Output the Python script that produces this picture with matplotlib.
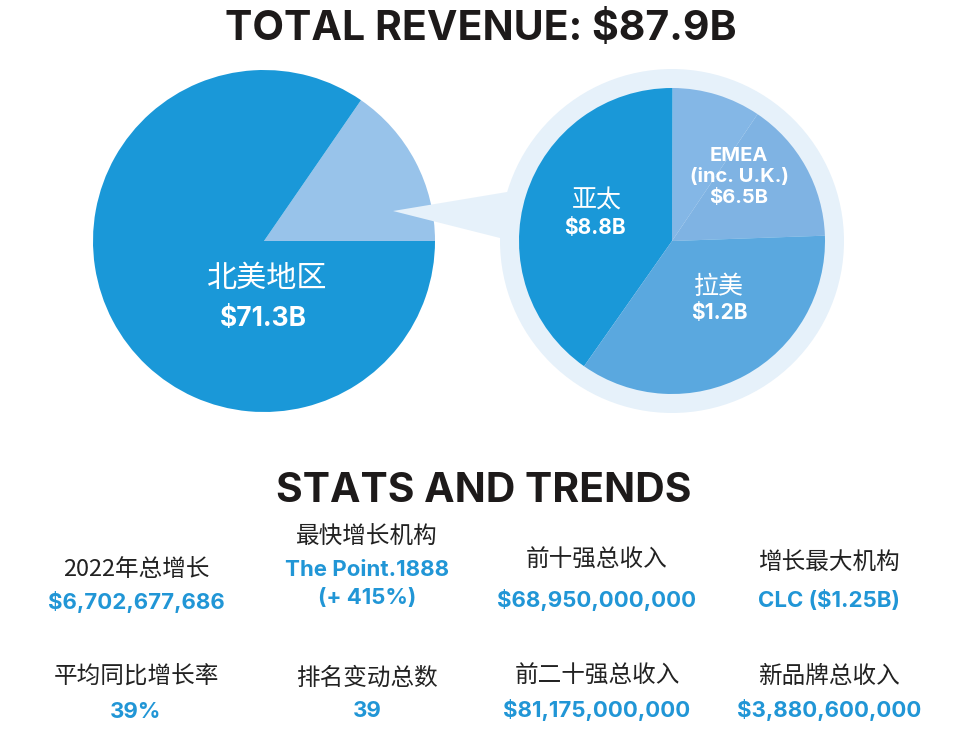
import matplotlib
matplotlib.use("Agg")
import matplotlib.pyplot as plt
from matplotlib.patches import Circle, Polygon

CJK = ['Noto Sans CJK SC', 'DejaVu Sans']
LATIN = 'Inter'

title_main = "TOTAL REVENUE: $87.9B"
title_stats = "STATS AND TRENDS"

left_shares = [15.4, 84.6]
left_colors = ['#98c3ea', '#1a98d8']
left_labels = ["北美地区", "$71.3B"]

right_shares = [15.0, 9.4, 40.3, 35.3]
right_colors = ['#7fb3e3', '#84b7e6', '#1a98d8', '#5aa8df']

stat_labels = ["2022年总增长", "最快增长机构", "前十强总收入", "增长最大机构",
               "平均同比增长率", "排名变动总数", "前二十强总收入", "新品牌总收入"]
stat_values = ["$6,702,677,686", "The Point.1888\n(+ 415%)", "$68,950,000,000", "CLC ($1.25B)",
               "39%", "39", "$81,175,000,000", "$3,880,600,000"]

W, H = 961, 740
fig = plt.figure(figsize=(W / 100, H / 100), dpi=100)
ax = fig.add_axes([0, 0, 1, 1])
ax.set_xlim(0, W)
ax.set_ylim(0, H)
ax.set_aspect('equal')
ax.axis('off')

def Y(p):
    return H - p

BLUE = '#2196d6'
DARK = '#1d1a1a'

# left pie
ax.pie(left_shares, colors=left_colors, center=(264, Y(241)), radius=171,
       startangle=0, frame=True, wedgeprops=dict(linewidth=0))

# halo and callout
halo = '#e6f1fa'
ax.add_patch(Circle((672, Y(241)), 172, fc=halo, ec='none', zorder=3))
ax.add_patch(Polygon([(393, Y(211)), (507, Y(192)), (540, Y(215)), (500, Y(238))],
                     fc=halo, ec='none', zorder=3))

# right pie
ax.pie(right_shares, colors=right_colors, center=(672, Y(241)), radius=153,
       startangle=2, frame=True, wedgeprops=dict(linewidth=0, zorder=4))

ax.set_xlim(0, W)
ax.set_ylim(0, H)
ax.axis('off')

def txt(x, py, s, size, color, family=LATIN, weight='bold', ls=1.1):
    ax.text(x, Y(py), s, fontsize=size, color=color, family=family, weight=weight,
            ha='center', va='center', zorder=6, linespacing=ls)

txt(481, 29, title_main, 29.5, DARK)
txt(484, 491, title_stats, 29.4, DARK)

txt(267, 278, left_labels[0], 21.7, 'white', CJK, 'normal')
txt(263, 319, left_labels[1], 19, 'white')

txt(597, 201, "亚太", 18, 'white', CJK, 'normal')
txt(595, 228, "$8.8B", 15, 'white')
txt(739, 177, "EMEA\n(inc. U.K.)\n$6.5B", 14.5, 'white', ls=1.2)
txt(719, 287, "拉美", 18, 'white', CJK, 'normal')
txt(719, 313, "$1.2B", 15, 'white')

col_x = [136, 367, 597, 829]
lab_y = [569, 537, 560, 563, 677, 678, 676, 676]
val_y = [602, 584, 600, 600, 712, 711, 710, 710]
for i, (lab, val) in enumerate(zip(stat_labels, stat_values)):
    x = col_x[i % 4]
    txt(x, lab_y[i], lab, 17, '#222222', CJK, 'normal')
    txt(x, val_y[i], val, 16, BLUE, ls=1.55)

fig.savefig('out.png', dpi=100)
